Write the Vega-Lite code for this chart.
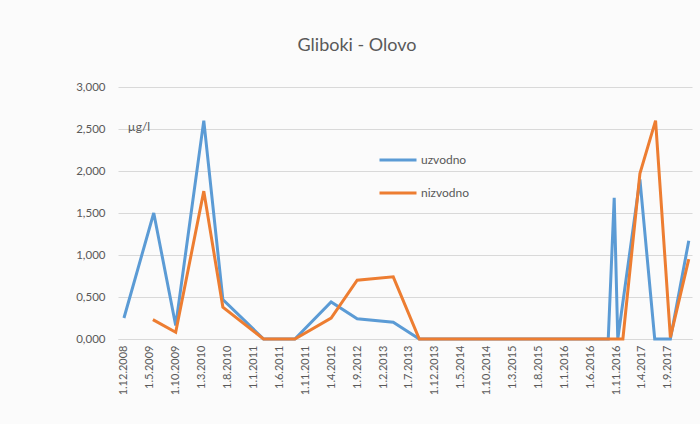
{
  "$schema": "https://vega.github.io/schema/vega-lite/v6.json",
  "width": 574,
  "height": 252,
  "autosize": "none",
  "padding": {"left": 118, "top": 87, "right": 8, "bottom": 85},
  "background": "#fbfbfb",
  "config": {
    "view": {"stroke": null},
    "font": "Lato"
  },
  "title": {
    "text": "Gliboki - Olovo",
    "fontSize": 18,
    "fontWeight": "normal",
    "color": "#595959",
    "font": "Lato",
    "anchor": "middle",
    "dx": -48,
    "offset": 26
  },
  "layer": [
    {
      "data": {
        "values": [
          {"date": "2008/12/01", "series": "uzvodno", "value": 0.25},
          {"date": "2009/05/25", "series": "uzvodno", "value": 1.50},
          {"date": "2009/10/01", "series": "uzvodno", "value": 0.16},
          {"date": "2010/03/15", "series": "uzvodno", "value": 2.60},
          {"date": "2010/07/05", "series": "uzvodno", "value": 0.47},
          {"date": "2011/03/01", "series": "uzvodno", "value": 0},
          {"date": "2011/09/01", "series": "uzvodno", "value": 0},
          {"date": "2012/04/01", "series": "uzvodno", "value": 0.44},
          {"date": "2012/09/01", "series": "uzvodno", "value": 0.24},
          {"date": "2013/04/01", "series": "uzvodno", "value": 0.20},
          {"date": "2013/09/01", "series": "uzvodno", "value": 0},
          {"date": "2016/09/15", "series": "uzvodno", "value": 0},
          {"date": "2016/10/20", "series": "uzvodno", "value": 1.68},
          {"date": "2016/11/10", "series": "uzvodno", "value": 0},
          {"date": "2017/03/20", "series": "uzvodno", "value": 1.90},
          {"date": "2017/06/15", "series": "uzvodno", "value": 0},
          {"date": "2017/09/15", "series": "uzvodno", "value": 0},
          {"date": "2018/01/01", "series": "uzvodno", "value": 1.17},
          {"date": "2009/05/20", "series": "nizvodno", "value": 0.23},
          {"date": "2009/10/01", "series": "nizvodno", "value": 0.08},
          {"date": "2010/03/15", "series": "nizvodno", "value": 1.76},
          {"date": "2010/07/05", "series": "nizvodno", "value": 0.38},
          {"date": "2011/03/01", "series": "nizvodno", "value": 0},
          {"date": "2011/09/01", "series": "nizvodno", "value": 0},
          {"date": "2012/04/01", "series": "nizvodno", "value": 0.25},
          {"date": "2012/09/01", "series": "nizvodno", "value": 0.70},
          {"date": "2013/04/01", "series": "nizvodno", "value": 0.74},
          {"date": "2013/09/01", "series": "nizvodno", "value": 0},
          {"date": "2016/12/10", "series": "nizvodno", "value": 0},
          {"date": "2017/03/20", "series": "nizvodno", "value": 1.97},
          {"date": "2017/06/20", "series": "nizvodno", "value": 2.60},
          {"date": "2017/09/15", "series": "nizvodno", "value": 0.02},
          {"date": "2018/01/01", "series": "nizvodno", "value": 0.95}
        ]
      },
      "mark": {"type": "line", "strokeWidth": 3, "strokeJoin": "miter"},
      "encoding": {
        "x": {
          "field": "date",
          "type": "temporal",
          "scale": {"domain": [{"year": 2008, "month": 10, "date": 27}, {"year": 2018, "month": 1, "date": 20}]},
          "axis": {
            "title": null,
            "tickCount": 40,
            "values": [
              {"year": 2008, "month": 12, "date": 1},
              {"year": 2009, "month": 5, "date": 1},
              {"year": 2009, "month": 10, "date": 1},
              {"year": 2010, "month": 3, "date": 1},
              {"year": 2010, "month": 8, "date": 1},
              {"year": 2011, "month": 1, "date": 1},
              {"year": 2011, "month": 6, "date": 1},
              {"year": 2011, "month": 11, "date": 1},
              {"year": 2012, "month": 4, "date": 1},
              {"year": 2012, "month": 9, "date": 1},
              {"year": 2013, "month": 2, "date": 1},
              {"year": 2013, "month": 7, "date": 1},
              {"year": 2013, "month": 12, "date": 1},
              {"year": 2014, "month": 5, "date": 1},
              {"year": 2014, "month": 10, "date": 1},
              {"year": 2015, "month": 3, "date": 1},
              {"year": 2015, "month": 8, "date": 1},
              {"year": 2016, "month": 1, "date": 1},
              {"year": 2016, "month": 6, "date": 1},
              {"year": 2016, "month": 11, "date": 1},
              {"year": 2017, "month": 4, "date": 1},
              {"year": 2017, "month": 9, "date": 1}
            ],
            "format": "%-d.%-m.%Y",
            "labelAngle": 270,
            "labelFontSize": 11,
            "labelColor": "#595959",
            "labelPadding": 6,
            "ticks": false,
            "grid": false,
            "domain": true,
            "domainColor": "#d9d9d9",
            "labelOverlap": false,
            "labelFlush": false,
            "labelBound": false
          }
        },
        "y": {
          "field": "value",
          "type": "quantitative",
          "scale": {"domain": [0, 3]},
          "axis": {
            "title": null,
            "values": [0, 0.5, 1, 1.5, 2, 2.5, 3],
            "labelExpr": "replace(format(datum.value, '.3f'), '.', ',')",
            "labelFontSize": 11.5,
            "labelColor": "#595959",
            "labelPadding": 13,
            "ticks": false,
            "domain": false,
            "grid": true,
            "gridColor": "#d9d9d9",
            "gridWidth": 1
          }
        },
        "color": {
          "field": "series",
          "type": "nominal",
          "scale": {"domain": ["uzvodno", "nizvodno"], "range": ["#5b9bd5", "#ed7d31"]},
          "legend": {
            "title": null,
            "orient": "none",
            "legendX": 260,
            "legendY": 53,
            "symbolType": "stroke",
            "symbolSize": 1369,
            "symbolStrokeWidth": 3,
            "labelFontSize": 12,
            "labelColor": "#595959",
            "labelOffset": 3,
            "rowPadding": 7
          }
        }
      }
    },
    {
      "data": {"values": [{"unit": "µg/l"}]},
      "mark": {"type": "text", "align": "left", "baseline": "middle", "fontSize": 12, "color": "#595959", "font": "Lato"},
      "encoding": {
        "x": {"datum": {"year": 2008, "month": 12, "date": 24}, "type": "temporal"},
        "y": {"datum": 2.52, "type": "quantitative"},
        "text": {"field": "unit", "type": "nominal"}
      }
    }
  ]
}
